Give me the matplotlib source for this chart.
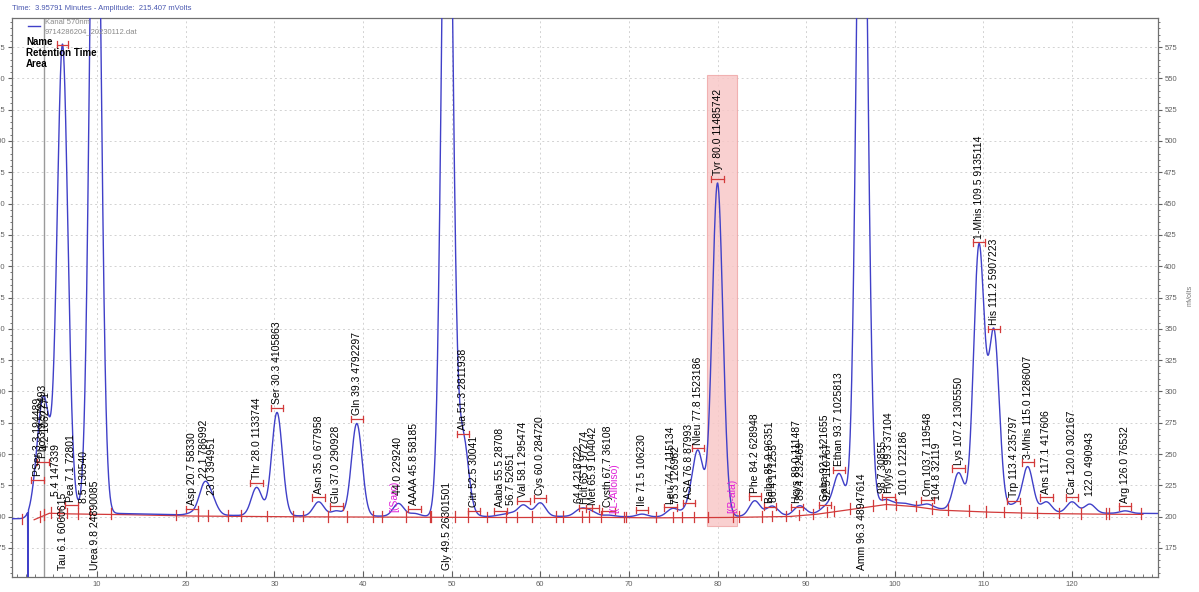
import numpy as np
import matplotlib
matplotlib.use("Agg")
import matplotlib.pyplot as plt
from matplotlib.ticker import MultipleLocator
from matplotlib.lines import Line2D
from matplotlib.patches import Rectangle

# ---------------- data ----------------
peak_names = ["PSer", "Pho", "", "", "Tau", "Pea", "", "Urea",
              "Asp", "", "", "Thr", "Ser", "Asn", "Glu", "Gln", "", "AAAA",
              "Gly", "Ala", "Citr", "Aaba", "", "Val", "Cys", "", "Hcit", "Met",
              "Cysth", "Ile", "Leu", "", "ASA", "Nleu", "Tyr", "Phe", "Baiba", "",
              "Hcys", "", "Gaba", "", "Ethan", "Amm", "", "Hylys", "", "Orn", "",
              "Lys", "1-Mhis", "His", "Trp", "3-Mhis", "Ans", "Car", "", "Arg"]
peak_rt = [3.3, 3.9, 4.2, 5.4, 6.1, 7.1, 8.5, 9.8,
           20.7, 22.1, 23.0, 28.0, 30.3, 35.0, 37.0, 39.3, 44.0, 45.8,
           49.5, 51.3, 52.5, 55.5, 56.7, 58.1, 60.0, 64.4, 65.1, 65.9,
           67.7, 71.5, 74.7, 75.3, 76.8, 77.8, 80.0, 84.2, 85.9, 86.4,
           89.0, 89.4, 92.1, 92.5, 93.7, 96.3, 98.7, 99.3, 101.0, 103.7, 104.8,
           107.2, 109.5, 111.2, 113.4, 115.0, 117.1, 120.0, 122.0, 126.0]
peak_area = [194489, 572493, 1062771, 147339, 6060615, 72801, 130540, 24890085,
             58330, 786992, 394951, 1133744, 4105863, 677958, 290928, 4792297, 229240, 58185,
             26301501, 2811938, 30041, 28708, 52651, 295474, 284720, 218722, 97274, 104042,
             36108, 106230, 115134, 126962, 87993, 1523186, 11485742, 628948, 96351, 171255,
             111487, 232469, 121655, 110767, 1025813, 48947614, 30855, 37104, 122186, 119548, 32119,
             1305550, 9135114, 5907223, 235797, 1286007, 417606, 302167, 490943, 76532]
# apex amplitude (mV); off-scale peaks are estimated
peak_top = [226, 240, 246.5, 210, 573, 205.5, 204.5, 860,
            202.8, 224.4, 211, 223.3, 283.2, 211.8, 204.6, 274.4, 210.5, 202.5,
            860, 262.5, 201.2, 201.2, 202.5, 209.2, 211, 204.4, 203.5, 203,
            201.2, 202, 203.8, 203.5, 207.5, 251, 466.4, 212.6, 204.5, 205.2,
            204, 206.5, 206, 206.5, 234, 860, 212, 212.2, 210.8, 210, 206.5,
            235, 415.5, 346.3, 209.2, 239.8, 211.8, 211.8, 210, 204.6]

# trace baseline (min, mV)
base_t = [0.4, 2.9, 4.6, 6.5, 12.5, 20, 30, 45, 55, 65, 72, 80, 88, 91, 95, 99,
          102, 105, 110, 116, 122, 129.7]
base_mv = [198.3, 198.3, 203.5, 203.0, 202.5, 201.3, 200.7, 200.3, 200.0, 200.3,
           199.8, 200.0, 200.8, 202.5, 206.5, 210.5, 209.0, 206.0, 204.5, 203.3,
           202.8, 202.5]

# expected but not found components
missing_names = ["Sarc", "L-Alloiso", "B-ala"]
missing_rt = [43.5, 68.3, 81.7]

# injection dip
dip_rt = 2.2
dip_mv = 60

# cursor readout
cursor_time = 3.95791
cursor_amp = 215.407

# highlighted window
hl_t = (78.8, 82.2)
hl_mv = (192.5, 553)

channel = "Kanal 570nm"
datafile = "9714286204_20230112.dat"

# ---------------- figure ----------------
W, H = 1199, 592
fig = plt.figure(figsize=(W / 100, H / 100), dpi=100)
plt.rcParams['font.family'] = ['Liberation Sans', 'DejaVu Sans']


def fx(x):
    return x / W


def fy(y):
    return 1 - y / H


ax = fig.add_axes([fx(12), fy(576.7), (1158 - 12) / W, (576.7 - 18.3) / H])
XMIN, XMAX, YMIN, YMAX = 0.4, 129.7, 152, 598
ax.set_xlim(XMIN, XMAX)
ax.set_ylim(YMIN, YMAX)

BLUE = "#4040c8"
RED = "#d23a3a"

t = np.arange(XMIN, XMAX, 0.004)
base = np.interp(t, base_t, base_mv)
trace = base.copy()
sigmas = []
for rt, area, top in zip(peak_rt, peak_area, peak_top):
    h = top - np.interp(rt, base_t, base_mv)
    s = area / (h * np.sqrt(2 * np.pi)) / 60.0 * 1.15
    s = min(max(s, 0.08), 0.6)
    sigmas.append(s)
    trace += h * np.exp(-0.5 * ((t - rt) / s) ** 2)
trace += (dip_mv - np.interp(dip_rt, base_t, base_mv)) * np.exp(-0.5 * ((t - dip_rt) / 0.015) ** 2)

# highlight window
ax.add_patch(Rectangle((hl_t[0], hl_mv[0]), hl_t[1] - hl_t[0], hl_mv[1] - hl_mv[0],
                       facecolor="#f8c8c8", edgecolor="#f0a8a8", lw=0.8, alpha=0.85, zorder=1))

# grid
ax.grid(True, which='major', color='#d2d2d2', linestyle=(0, (2, 3)), linewidth=0.7, zorder=0)
ax.set_axisbelow(True)

# red integration baseline
mask = (t > 2.9) & (t < 128)
ax.plot(t[mask], base[mask] - 0.8, color=RED, lw=0.9, zorder=2)

# blue trace
ax.plot(t, trace, color=BLUE, lw=1.0, zorder=3)

# cursor line
ax.axvline(cursor_time, color="#9a9a9a", lw=1.0, zorder=2.5)

# boundary ticks
bounds = []
order = np.argsort(peak_rt)
for k in range(len(order)):
    i = order[k]
    rt, s = peak_rt[i], sigmas[i]
    if k == 0:
        bounds.append(rt - 3 * s)
    if k < len(order) - 1:
        j = order[k + 1]
        if peak_rt[j] - rt < 3 * s + 3 * sigmas[j]:
            bounds.append(0.5 * (rt + peak_rt[j]))
        else:
            bounds.append(rt + 3 * s)
            bounds.append(peak_rt[j] - 3 * sigmas[j])
    else:
        bounds.append(rt + 3 * s)
for b in bounds:
    yb = np.interp(b, base_t, base_mv)
    ax.plot([b, b], [yb - 4.5, yb + 4.0], color=RED, lw=0.9, zorder=4)

# labels and brackets
label_top_limit = 520
for name, rt, area, top in zip(peak_names, peak_rt, peak_area, peak_top):
    txt = (f"{name} " if name else "") + f"{rt:.1f} {area}"
    if top > label_top_limit:
        ax.text(rt, 157, txt, rotation=90, ha='center', va='bottom', fontsize=7.5,
                color='black', zorder=5)
        if top < YMAX:
            yb = top + 4
            ax.plot([rt - 0.6, rt + 0.6], [yb, yb], color=RED, lw=0.9, zorder=4)
            ax.plot([rt - 0.6, rt - 0.6], [yb - 2.5, yb + 2.5], color=RED, lw=0.9, zorder=4)
            ax.plot([rt + 0.6, rt + 0.6], [yb - 2.5, yb + 2.5], color=RED, lw=0.9, zorder=4)
        continue
    yb = top + 3.5
    if name:
        ax.plot([rt - 0.7, rt + 0.7], [yb, yb], color=RED, lw=0.9, zorder=4)
        ax.plot([rt - 0.7, rt - 0.7], [yb - 2.5, yb + 2.5], color=RED, lw=0.9, zorder=4)
        ax.plot([rt + 0.7, rt + 0.7], [yb - 2.5, yb + 2.5], color=RED, lw=0.9, zorder=4)
    ax.text(rt, yb + 3, txt, rotation=90, ha='center', va='bottom', fontsize=7.5,
            color='black', zorder=5)

for name, rt in zip(missing_names, missing_rt):
    ax.text(rt, np.interp(rt, base_t, base_mv) + 3, f"[({name})", rotation=90,
            ha='center', va='bottom', fontsize=7.5, color="#e020d8", zorder=5)

# axes styling
for sp in ax.spines.values():
    sp.set_color('#707070')
    sp.set_linewidth(0.9)
ax.xaxis.set_major_locator(MultipleLocator(10))
ax.xaxis.set_minor_locator(MultipleLocator(1))
ax.yaxis.set_major_locator(MultipleLocator(25))
ax.yaxis.set_minor_locator(MultipleLocator(5))
ax.tick_params(axis='x', which='both', direction='in', top=False, labelsize=5.5,
               colors='#606060', pad=3)
ax.tick_params(axis='x', which='major', length=4)
ax.tick_params(axis='x', which='minor', length=2.5)
ax.tick_params(axis='y', which='both', left=True, right=True, labelleft=True,
               labelright=True, direction='out', labelsize=5.5, colors='#606060', pad=1.5)
ax.tick_params(axis='y', which='major', length=3)
ax.tick_params(axis='y', which='minor', length=1.5)

# figure texts
fig.text(fx(12), fy(9), f"Time:  {cursor_time:.5f} Minutes - Amplitude:  {cursor_amp:.3f} mVolts",
         fontsize=5.5, color="#4a58b0", va='center', ha='left')
fig.add_artist(Line2D([fx(28), fx(40)], [fy(26), fy(26)], color=BLUE, lw=1.0))
fig.text(fx(45), fy(23), channel, fontsize=5.5, color='#8a8a8a', va='center')
fig.text(fx(45), fy(32), datafile, fontsize=5.5, color='#8a8a8a', va='center')
fig.text(fx(26), fy(42), "Name", fontsize=7, weight='bold', va='center')
fig.text(fx(26), fy(53), "Retention Time", fontsize=7, weight='bold', va='center')
fig.text(fx(26), fy(64), "Area", fontsize=7, weight='bold', va='center')
fig.text(fx(1190), fy(295), "mVolts", rotation=90, fontsize=5, color='#777777',
         va='center', ha='center')

fig.savefig("out.png", dpi=100)
